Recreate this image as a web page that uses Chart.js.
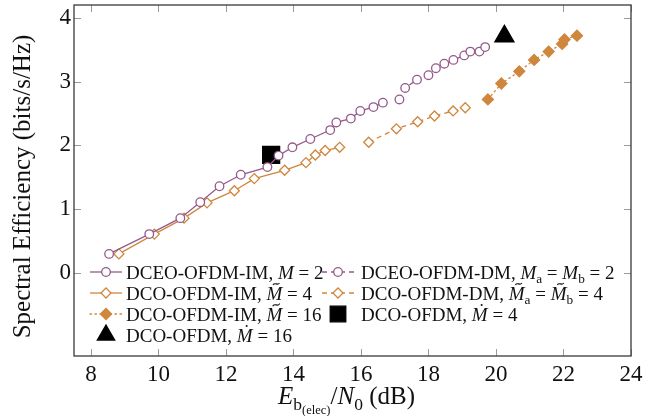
<!DOCTYPE html>
<html lang="en">
<head>
<meta charset="UTF-8" />
<title>Spectral Efficiency vs Eb(elec)/N0</title>
<script src="https://cdn.jsdelivr.net/npm/chart.js"></script>
<style>
  body { margin: 0; background: #fff; }
  canvas { display: block; }
</style>
</head>
<body>
<canvas id="seChart" width="657" height="416"></canvas>
<script>
  // values (Eb(elec)/N0 in dB, spectral efficiency in bits/s/Hz)
  const dceoImX = [8.54, 9.73, 10.65, 11.24, 11.81, 12.44, 13.23, 13.56, 13.97, 14.50, 15.09, 15.27, 15.70, 15.98, 16.37, 16.65];
  const dceoImY = [0.30, 0.61, 0.86, 1.11, 1.36, 1.54, 1.66, 1.84, 1.97, 2.10, 2.24, 2.36, 2.42, 2.54, 2.60, 2.67];

  const dceoDmX = [17.14, 17.31, 17.66, 18.00, 18.22, 18.47, 18.74, 19.06, 19.24, 19.51, 19.68];
  const dceoDmY = [2.72, 2.90, 3.03, 3.10, 3.21, 3.28, 3.34, 3.41, 3.47, 3.47, 3.54];

  const dcoIm4X = [8.83, 9.88, 10.76, 11.44, 12.25, 12.84, 13.74, 14.37, 14.65, 14.94, 15.37];
  const dcoIm4Y = [0.30, 0.61, 0.86, 1.10, 1.29, 1.48, 1.61, 1.73, 1.85, 1.92, 1.97];

  const dcoDmX = [16.23, 17.05, 17.68, 18.18, 18.73, 19.09];
  const dcoDmY = [2.05, 2.26, 2.37, 2.46, 2.54, 2.59];

  const dcoIm16X = [19.76, 20.16, 20.69, 21.13, 21.56, 21.96, 22.03, 22.40];
  const dcoIm16Y = [2.72, 2.97, 3.16, 3.34, 3.47, 3.59, 3.66, 3.72];

  const dcoM4X = [13.34];
  const dcoM4Y = [1.85];
  const dcoM16X = [20.25];
  const dcoM16Y = [3.71];

  const xTicks = [8, 10, 12, 14, 16, 18, 20, 22, 24];
  const yTicks = [0, 1, 2, 3, 4];

  const purple = '#955a8c';
  const orange = '#cf863d';
  const serif = '"Liberation Serif", "Times New Roman", serif';

  const pts = (xs, ys) => xs.map((x, i) => ({ x: x, y: ys[i] }));

  // text with italics, subscripts and accents, drawn piece by piece
  function rich(ctx, parts, x, y, size, dry) {
    let cx = x;
    for (const p of parts) {
      const s = p.sub ? size * 0.7 : p.ssub ? size * 0.5 : size;
      const dy = p.sub ? size * 0.22 : p.ssub ? size * 0.38 : 0;
      ctx.font = (p.it ? 'italic ' : '') + s + 'px ' + serif;
      const w = ctx.measureText(p.t).width;
      if (!dry) {
        ctx.fillText(p.t, cx, y + dy);
        if (p.acc) {
          const ax = cx + w / 2 + s * 0.1;
          const ay = y - s * 0.82;
          if (p.acc === 'tilde') {
            ctx.save();
            ctx.lineWidth = s * 0.06;
            ctx.beginPath();
            const hw = s * 0.17, amp = s * 0.05;
            ctx.moveTo(ax - hw, ay + amp);
            ctx.bezierCurveTo(ax - hw * 0.4, ay - amp * 2.2, ax + hw * 0.4, ay + amp * 2.2, ax + hw, ay - amp);
            ctx.stroke();
            ctx.restore();
          } else {
            ctx.beginPath();
            ctx.arc(ax, ay, s * 0.055, 0, Math.PI * 2);
            ctx.fill();
          }
        }
      }
      cx += w;
    }
    return cx - x;
  }

  function marker(ctx, style, r, x, y) {
    ctx.beginPath();
    if (style === 'circle') {
      ctx.arc(x, y, r, 0, Math.PI * 2);
    } else if (style === 'rectRot') {
      ctx.moveTo(x - r, y); ctx.lineTo(x, y - r); ctx.lineTo(x + r, y); ctx.lineTo(x, y + r);
    } else if (style === 'rect') {
      const h = r * Math.SQRT1_2;
      ctx.rect(x - h, y - h, 2 * h, 2 * h);
    } else if (style === 'triangle') {
      for (let k = 0; k < 3; k++) {
        const a = k * 2 * Math.PI / 3;
        ctx[k ? 'lineTo' : 'moveTo'](x + Math.sin(a) * r, y - Math.cos(a) * r);
      }
    }
    ctx.closePath();
    ctx.fill();
    ctx.stroke();
  }

  const frameTicks = {
    id: 'frameTicks',
    afterDatasetsDraw(chart) {
      const { ctx, chartArea: a, scales: { x, y } } = chart;
      ctx.save();
      ctx.strokeStyle = '#9a9a9a';
      ctx.lineWidth = 1;
      ctx.beginPath();
      for (const v of xTicks) {
        const px = Math.round(x.getPixelForValue(v)) + 0.5;
        ctx.moveTo(px, a.bottom); ctx.lineTo(px, a.bottom - 7);
        ctx.moveTo(px, a.top); ctx.lineTo(px, a.top + 7);
      }
      for (const v of yTicks) {
        const py = Math.round(y.getPixelForValue(v)) + 0.5;
        ctx.moveTo(a.left, py); ctx.lineTo(a.left + 7, py);
        ctx.moveTo(a.right, py); ctx.lineTo(a.right - 7, py);
      }
      ctx.stroke();
      ctx.strokeStyle = '#3a3a3a';
      ctx.lineWidth = 1.3;
      ctx.strokeRect(a.left, a.top, a.right - a.left, a.bottom - a.top);
      ctx.restore();
    }
  };

  const richLegend = {
    id: 'richLegend',
    afterDatasetsDraw(chart) {
      const { ctx, chartArea: a } = chart;
      const colX = [a.left + 16, a.left + 248];
      const textOff = [36, 39];
      const rowY = [a.bottom - 84, a.bottom - 63, a.bottom - 42, a.bottom - 21];
      ctx.save();
      chart.data.datasets.forEach(ds => {
        const x0 = colX[ds.slot[0]], yc = rowY[ds.slot[1]];
        if (ds.showLine !== false) {
          ctx.strokeStyle = ds.borderColor;
          ctx.lineWidth = ds.borderWidth;
          ctx.setLineDash(ds.borderDash || []);
          ctx.lineCap = ds.borderCapStyle || 'butt';
          ctx.beginPath();
          ctx.moveTo(x0, yc); ctx.lineTo(x0 + 32, yc);
          ctx.stroke();
          ctx.setLineDash([]);
        }
        ctx.fillStyle = ds.pointBackgroundColor;
        ctx.strokeStyle = ds.pointBorderColor;
        ctx.lineWidth = ds.pointBorderWidth;
        marker(ctx, ds.pointStyle, ds.legendRadius || ds.pointRadius, x0 + 16, yc);
        ctx.fillStyle = '#111';
        ctx.strokeStyle = '#111';
        ctx.textBaseline = 'alphabetic';
        rich(ctx, ds.rich, x0 + textOff[ds.slot[0]], yc + 6.5, 19);
      });
      ctx.restore();
    }
  };

  const axisTitles = {
    id: 'axisTitles',
    afterDraw(chart) {
      const { ctx, chartArea: a } = chart;
      ctx.save();
      ctx.fillStyle = '#111';
      ctx.strokeStyle = '#111';
      ctx.textBaseline = 'alphabetic';
      const xt = [{ t: 'E', it: 1 }, { t: 'b', sub: 1 }, { t: '(elec)', ssub: 1 }, { t: '/' }, { t: 'N', it: 1 }, { t: '0', sub: 1 }, { t: ' (dB)' }];
      const w = rich(ctx, xt, 0, 0, 25, true);
      rich(ctx, xt, (a.left + a.right) / 2 - 6 - w / 2, 404, 25);
      ctx.translate(30, (a.top + a.bottom) / 2 + 6);
      ctx.rotate(-Math.PI / 2);
      ctx.font = '25px ' + serif;
      ctx.textAlign = 'center';
      ctx.fillText('Spectral Efficiency (bits/s/Hz)', 0, 0);
      ctx.restore();
    }
  };

  const common = { borderWidth: 1.3, pointBorderWidth: 1.3, tension: 0, fill: false };

  new Chart(document.getElementById('seChart').getContext('2d'), {
    type: 'line',
    data: {
      datasets: [
        { ...common, label: 'DCEO-OFDM-IM, M = 2', slot: [0, 0],
          rich: [{ t: 'DCEO-OFDM-IM, ' }, { t: 'M', it: 1 }, { t: ' = 2' }],
          data: pts(dceoImX, dceoImY), borderColor: purple, pointBorderColor: purple, pointBackgroundColor: '#fff',
          pointStyle: 'circle', pointRadius: 4.3 },
        { ...common, label: 'DCEO-OFDM-DM, Ma = Mb = 2', slot: [1, 0],
          rich: [{ t: 'DCEO-OFDM-DM, ' }, { t: 'M', it: 1 }, { t: 'a', sub: 1 }, { t: ' = ' }, { t: 'M', it: 1 }, { t: 'b', sub: 1 }, { t: ' = 2' }],
          data: pts(dceoDmX, dceoDmY), borderColor: purple, borderDash: [5, 4], pointBorderColor: purple, pointBackgroundColor: '#fff',
          pointStyle: 'circle', pointRadius: 4.3 },
        { ...common, label: 'DCO-OFDM-IM, M~ = 4', slot: [0, 1],
          rich: [{ t: 'DCO-OFDM-IM, ' }, { t: 'M', it: 1, acc: 'tilde' }, { t: ' = 4' }],
          data: pts(dcoIm4X, dcoIm4Y), borderColor: orange, pointBorderColor: orange, pointBackgroundColor: '#fff',
          pointStyle: 'rectRot', pointRadius: 5 },
        { ...common, label: 'DCO-OFDM-DM, M~a = M~b = 4', slot: [1, 1],
          rich: [{ t: 'DCO-OFDM-DM, ' }, { t: 'M', it: 1, acc: 'tilde' }, { t: 'a', sub: 1 }, { t: ' = ' }, { t: 'M', it: 1, acc: 'tilde' }, { t: 'b', sub: 1 }, { t: ' = 4' }],
          data: pts(dcoDmX, dcoDmY), borderColor: orange, borderDash: [5, 4], pointBorderColor: orange, pointBackgroundColor: '#fff',
          pointStyle: 'rectRot', pointRadius: 5 },
        { ...common, label: 'DCO-OFDM-IM, M~ = 16', slot: [0, 2],
          rich: [{ t: 'DCO-OFDM-IM, ' }, { t: 'M', it: 1, acc: 'tilde' }, { t: ' = 16' }],
          data: pts(dcoIm16X, dcoIm16Y), borderColor: orange, borderDash: [1.5, 3.5], borderCapStyle: 'round',
          pointBorderColor: orange, pointBackgroundColor: orange, pointStyle: 'rectRot', pointRadius: 5.5 },
        { ...common, label: 'DCO-OFDM, M. = 4', slot: [1, 2], showLine: false,
          rich: [{ t: 'DCO-OFDM, ' }, { t: 'M', it: 1, acc: 'dot' }, { t: ' = 4' }],
          data: pts(dcoM4X, dcoM4Y), borderColor: '#000', pointBorderColor: '#000', pointBackgroundColor: '#000',
          pointStyle: 'rect', pointRadius: 12, legendRadius: 11 },
        { ...common, label: 'DCO-OFDM, M. = 16', slot: [0, 3], showLine: false,
          rich: [{ t: 'DCO-OFDM, ' }, { t: 'M', it: 1, acc: 'dot' }, { t: ' = 16' }],
          data: pts(dcoM16X, dcoM16Y), borderColor: '#000', pointBorderColor: '#000', pointBackgroundColor: '#000',
          pointStyle: 'triangle', pointRadius: 11, legendRadius: 10 }
      ]
    },
    options: {
      responsive: false,
      animation: false,
      events: [],
      layout: { autoPadding: false, padding: { top: 5, right: 26, left: 0, bottom: 0 } },
      scales: {
        x: {
          type: 'linear', min: 7.5, max: 24,
          afterBuildTicks: s => { s.ticks = xTicks.map(v => ({ value: v })); },
          afterFit: s => { s.height = 60; s.paddingLeft = 0; s.paddingRight = 0; },
          grid: { display: false, drawTicks: false },
          border: { display: false },
          ticks: { color: '#111', padding: 5, font: { family: serif, size: 23 } }
        },
        y: {
          type: 'linear', min: -1.3, max: 4.2,
          afterBuildTicks: s => { s.ticks = yTicks.map(v => ({ value: v })); },
          afterFit: s => { s.width = 74; s.paddingTop = 0; s.paddingBottom = 0; },
          grid: { display: false, drawTicks: false },
          border: { display: false },
          ticks: { color: '#111', padding: 3, font: { family: serif, size: 23 } }
        }
      },
      plugins: {
        legend: { display: false },
        tooltip: { enabled: false }
      }
    },
    plugins: [frameTicks, richLegend, axisTitles]
  });
</script>
</body>
</html>
